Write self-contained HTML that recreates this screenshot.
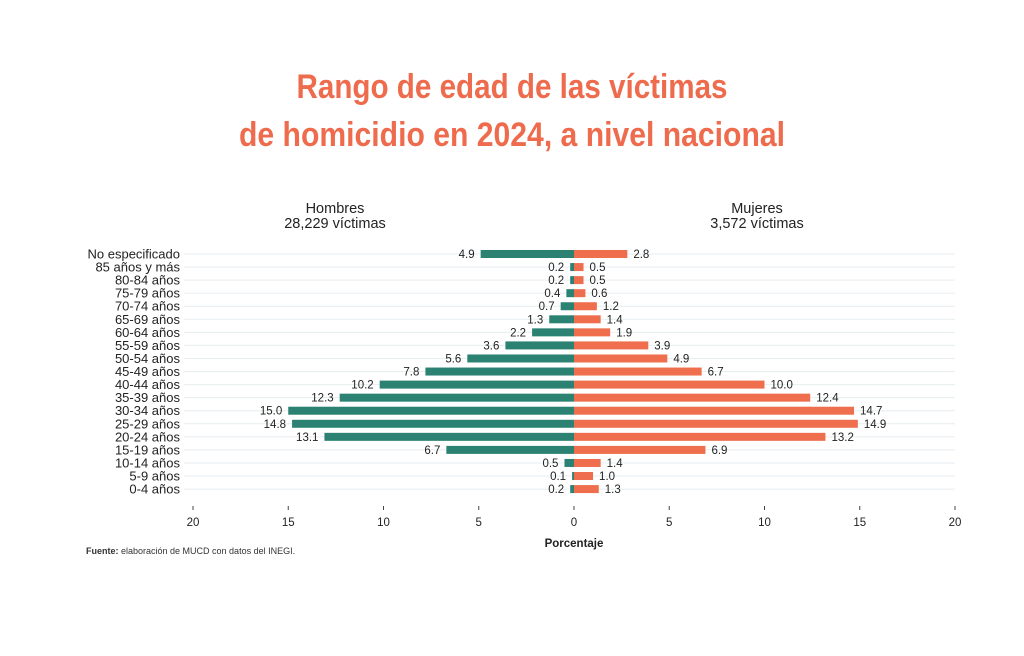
<!DOCTYPE html>
<html><head><meta charset="utf-8"><style>
body{margin:0;background:#fff;}
svg{display:block;font-family:"Liberation Sans",sans-serif;}
</style></head><body>
<svg width="1024" height="656" viewBox="0 0 1024 656" xmlns="http://www.w3.org/2000/svg">
<text x="512" y="98" text-anchor="middle" font-size="34" font-weight="bold" fill="#ee6c4d" textLength="431" lengthAdjust="spacingAndGlyphs">Rango de edad de las víctimas</text>
<text x="512" y="146" text-anchor="middle" font-size="34" font-weight="bold" fill="#ee6c4d" textLength="546" lengthAdjust="spacingAndGlyphs">de homicidio en 2024, a nivel nacional</text>
<text x="335" y="213" text-anchor="middle" font-size="14.5" fill="#222">Hombres</text>
<text x="335" y="228" text-anchor="middle" font-size="14.5" fill="#222">28,229 víctimas</text>
<text x="757" y="213" text-anchor="middle" font-size="14.5" fill="#222">Mujeres</text>
<text x="757" y="228" text-anchor="middle" font-size="14.5" fill="#222">3,572 víctimas</text>
<g id="chart"></g>
<text x="574" y="547" text-anchor="middle" font-size="11.5" font-weight="bold" fill="#222">Porcentaje</text>
<text x="86" y="554" font-size="9" fill="#333"><tspan font-weight="bold">Fuente:</tspan> elaboración de MUCD con datos del INEGI.</text>
</svg>
<script>
var labels=["No especificado","85 años y más","80-84 años","75-79 años","70-74 años","65-69 años","60-64 años","55-59 años","50-54 años","45-49 años","40-44 años","35-39 años","30-34 años","25-29 años","20-24 años","15-19 años","10-14 años","5-9 años","0-4 años"];
var h=[4.9,0.2,0.2,0.4,0.7,1.3,2.2,3.6,5.6,7.8,10.2,12.3,15.0,14.8,13.1,6.7,0.5,0.1,0.2];
var m=[2.8,0.5,0.5,0.6,1.2,1.4,1.9,3.9,4.9,6.7,10.0,12.4,14.7,14.9,13.2,6.9,1.4,1.0,1.3];
var z=574,s=19.05,out="";
for(var i=0;i<19;i++){var y=254+i*13.06;
out+='<line x1="184" x2="955" y1="'+y+'" y2="'+y+'" stroke="#e6eef0" stroke-width="1"/>';}
for(var i=0;i<19;i++){var y=254+i*13.06;
out+='<text x="180" y="'+(y+4.5)+'" text-anchor="end" font-size="13" fill="#222">'+labels[i]+'</text>';
var w=h[i]*s;out+='<rect x="'+(z-w)+'" y="'+(y-4)+'" width="'+w+'" height="8" fill="#2b8272"/>';
out+='<text x="'+(z-w-6)+'" y="'+(y+4)+'" text-anchor="end" font-size="11.5" fill="#222">'+h[i].toFixed(1)+'</text>';
var w2=m[i]*s;out+='<rect x="'+z+'" y="'+(y-4)+'" width="'+w2+'" height="8" fill="#ee6e4d"/>';
out+='<text x="'+(z+w2+6)+'" y="'+(y+4)+'" font-size="11.5" fill="#222">'+m[i].toFixed(1)+'</text>';}
var t=[20,15,10,5,0,5,10,15,20];
for(var k=0;k<9;k++){var x=z+(k-4)*5*s;
out+='<line x1="'+x+'" x2="'+x+'" y1="506" y2="510" stroke="#444"/>';
out+='<text x="'+x+'" y="526" text-anchor="middle" font-size="11.5" fill="#222">'+t[k]+'</text>';}
document.getElementById("chart").innerHTML=out;
</script>
</body></html>
